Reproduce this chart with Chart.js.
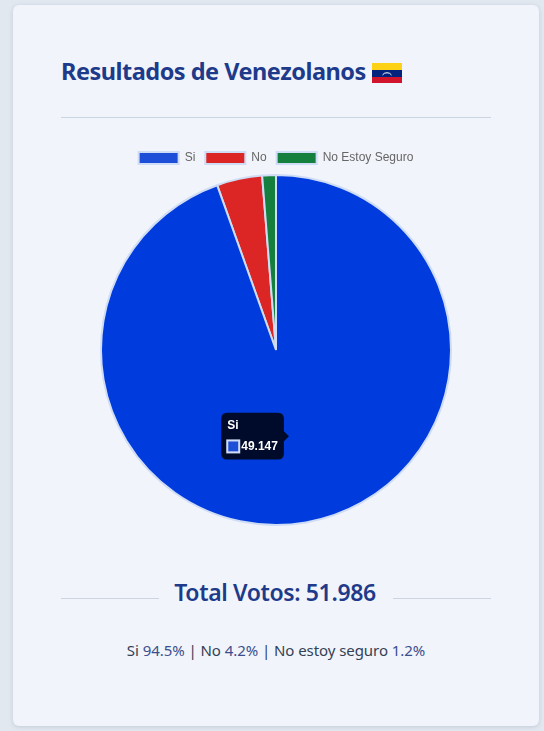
<!DOCTYPE html>
<html lang="es">
<head>
<meta charset="utf-8">
<title>Resultados de Venezolanos</title>
<script src="https://cdn.jsdelivr.net/npm/chart.js@4"></script>
<style>
html,body{margin:0;padding:0;width:544px;height:731px;overflow:hidden;background:#e2e8f0;}
.card{position:absolute;left:13px;top:5px;width:526px;height:721px;background:#f1f4fa;border-radius:6px;box-shadow:0 1px 4px rgba(100,116,139,.25);}
h1{position:absolute;left:61px;top:53px;margin:0;font:700 23.5px/36px "Noto Sans",sans-serif;color:#1e3a8a;white-space:nowrap;letter-spacing:-.5px;}
.flag{position:absolute;left:372px;top:63px;}
.rule{position:absolute;height:1px;background:#cbd5e1;}
#wrap{position:absolute;left:61px;top:142px;width:430px;height:384px;}
.total{position:absolute;left:60px;width:430px;top:575px;text-align:center;font:600 23px/34px "Noto Sans",sans-serif;color:#1e3a8a;letter-spacing:-.37px;}
.pct{position:absolute;left:61px;width:430px;top:639px;text-align:center;font:400 15px/22px "Noto Sans",sans-serif;color:#334155;white-space:nowrap;letter-spacing:-.06px;}
.pct span{color:#3b4f8f;}
</style>
</head>
<body>
<div class="card"></div>
<h1>Resultados de Venezolanos</h1>
<svg class="flag" width="30" height="20" viewBox="0 0 30 20"><rect width="30" height="7" fill="#fcd116"/><rect y="7" width="30" height="7" fill="#00247d"/><rect y="14" width="30" height="6" fill="#cf142b"/><path d="M10.500 12 A5 4 0 0 1 19.500 12" fill="none" stroke="#fff" stroke-width="1"/></svg>
<div class="rule" style="left:61px;top:117px;width:430px"></div>
<div id="wrap"><canvas id="c"></canvas></div>
<div class="rule" style="left:61px;top:598px;width:98px"></div>
<div class="rule" style="left:393px;top:598px;width:98px"></div>
<div class="total">Total Votos: 51.986</div>
<div class="pct">Si <span>94.5%</span> | No <span>4.2%</span> | No estoy seguro <span>1.2%</span></div>
<script>
const categories = ["Si", "No", "No Estoy Seguro"];
const votes = [49147, 2183, 656];
const sliceColors = ["#1d4ed8", "#dc2626", "#15803d"];
const sliceBorder = "#cfdcf5";

const chart = new Chart(document.getElementById("c"), {
  type: "pie",
  data: {
    labels: categories,
    datasets: [{ data: votes, backgroundColor: sliceColors, borderColor: sliceBorder, borderWidth: 2, hoverBorderColor: sliceBorder, hoverOffset: 0 }]
  },
  options: {
    responsive: true,
    maintainAspectRatio: false,
    animation: false,
    plugins: {
      legend: { position: "top", labels: { font: { size: 12, family: "'Liberation Sans', Arial, sans-serif" }, color: "#666" } },
      tooltip: {
        callbacks: { label: (ctx) => ctx.parsed.toLocaleString("de-DE") },
        titleFont: { family: "'Liberation Sans', Arial, sans-serif" },
        bodyFont: { family: "'Liberation Sans', Arial, sans-serif", weight: "bold" }
      }
    }
  }
});
const act = [{ datasetIndex: 0, index: 0 }];
chart.setActiveElements(act);
chart.tooltip.setActiveElements(act, { x: 291, y: 296 });
chart.update();
</script>
</body>
</html>
